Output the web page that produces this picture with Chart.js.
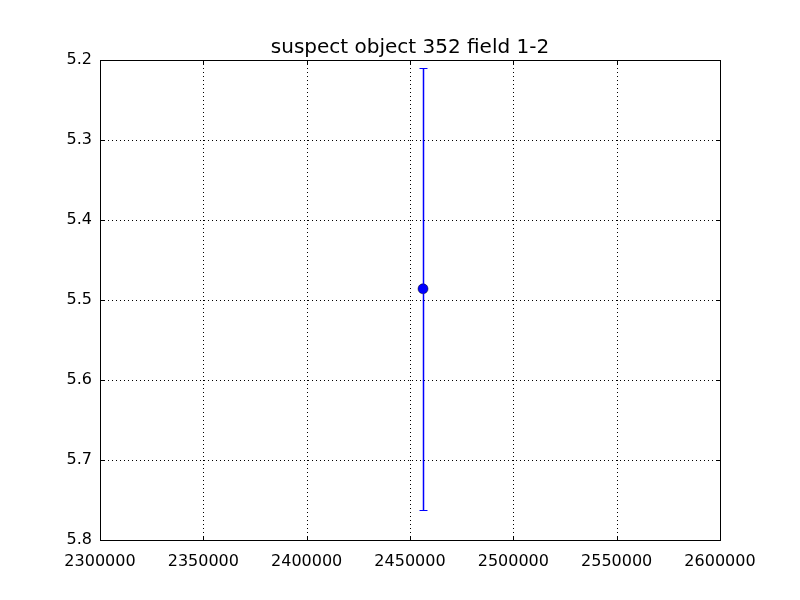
<!DOCTYPE html>
<html>
<head>
<meta charset="utf-8">
<script src="https://cdn.jsdelivr.net/npm/chart.js@4"></script>
<style>
  body { margin: 0; background: #fff; }
  #wrap { width: 800px; height: 600px; }
</style>
</head>
<body>
<div id="wrap"><canvas id="chart" width="800" height="600"></canvas></div>
<script>
// data
var xValues = [2456300];
var yValues = [5.486];
var yErrors = [0.276];
var xTicks = [2300000, 2350000, 2400000, 2450000, 2500000, 2550000, 2600000];
var yTicks = [5.2, 5.3, 5.4, 5.5, 5.6, 5.7, 5.8];
var titleText = 'suspect object 352 field 1-2';

var FONT = '"DejaVu Sans", sans-serif';

// dotted grid, error bars, frame, inward ticks, title
var extras = {
  id: 'extras',
  beforeDatasetsDraw: function (chart) {
    var ctx = chart.ctx, a = chart.chartArea;
    var xs = chart.scales.x, ys = chart.scales.y;
    ctx.save();
    ctx.strokeStyle = '#000';
    ctx.lineWidth = 1;
    ctx.setLineDash([1, 3]);
    ctx.beginPath();
    xTicks.forEach(function (v) {
      var p = Math.round(xs.getPixelForValue(v)) + 0.5;
      ctx.moveTo(p, a.top); ctx.lineTo(p, a.bottom);
    });
    yTicks.forEach(function (v) {
      var p = Math.round(ys.getPixelForValue(v)) + 0.5;
      ctx.moveTo(a.left, p); ctx.lineTo(a.right, p);
    });
    ctx.stroke();
    ctx.restore();
  },
  afterDatasetsDraw: function (chart) {
    var ctx = chart.ctx;
    var xs = chart.scales.x, ys = chart.scales.y;
    ctx.save();
    ctx.strokeStyle = '#0000ff';
    for (var i = 0; i < xValues.length; i++) {
      var px = Math.round(xs.getPixelForValue(xValues[i])) + 0.5;
      var top = Math.round(ys.getPixelForValue(yValues[i] - yErrors[i])) + 0.5;
      var bot = Math.round(ys.getPixelForValue(yValues[i] + yErrors[i])) + 0.5;
      ctx.lineWidth = 1.5;
      ctx.beginPath();
      ctx.moveTo(px, top); ctx.lineTo(px, bot);
      ctx.stroke();
      ctx.lineWidth = 1;
      ctx.beginPath();
      ctx.moveTo(px - 4, top); ctx.lineTo(px + 4, top);
      ctx.moveTo(px - 4, bot); ctx.lineTo(px + 4, bot);
      ctx.stroke();
    }
    ctx.restore();
  },
  afterDraw: function (chart) {
    var ctx = chart.ctx, a = chart.chartArea;
    var xs = chart.scales.x, ys = chart.scales.y;
    ctx.save();
    ctx.strokeStyle = '#000';
    ctx.lineWidth = 1;
    ctx.strokeRect(Math.round(a.left) + 0.5, Math.round(a.top) + 0.5,
      Math.round(a.right - a.left), Math.round(a.bottom - a.top));
    ctx.beginPath();
    xTicks.forEach(function (v) {
      var p = Math.round(xs.getPixelForValue(v)) + 0.5;
      ctx.moveTo(p, a.bottom); ctx.lineTo(p, a.bottom - 4);
      ctx.moveTo(p, a.top); ctx.lineTo(p, a.top + 4);
    });
    yTicks.forEach(function (v) {
      var p = Math.round(ys.getPixelForValue(v)) + 0.5;
      ctx.moveTo(a.left, p); ctx.lineTo(a.left + 4, p);
      ctx.moveTo(a.right, p); ctx.lineTo(a.right - 4, p);
    });
    ctx.stroke();
    ctx.fillStyle = '#000';
    ctx.font = '20px ' + FONT;
    ctx.textAlign = 'center';
    ctx.textBaseline = 'alphabetic';
    ctx.fillText(titleText, (a.left + a.right) / 2, a.top - 7);
    ctx.restore();
  }
};

new Chart(document.getElementById('chart').getContext('2d'), {
  type: 'scatter',
  data: {
    datasets: [{
      data: xValues.map(function (x, i) { return { x: x, y: yValues[i] }; }),
      backgroundColor: '#0000ff',
      borderColor: '#000',
      borderWidth: 0.5,
      pointRadius: 5,
      pointHoverRadius: 5
    }]
  },
  options: {
    responsive: false,
    animation: false,
    events: [],
    layout: { padding: { top: 60, right: 80, left: 0, bottom: 0 } },
    plugins: { legend: { display: false }, tooltip: { enabled: false }, title: { display: false } },
    scales: {
      x: {
        type: 'linear',
        min: 2300000, max: 2600000,
        afterFit: function (s) { s.height = 60; },
        afterBuildTicks: function (s) { s.ticks = xTicks.map(function (v) { return { value: v }; }); },
        ticks: {
          color: '#000',
          font: { family: FONT, size: 16 },
          padding: 4,
          maxRotation: 0,
          callback: function (v) { return String(v); }
        },
        grid: { display: false },
        border: { display: false }
      },
      y: {
        type: 'linear',
        reverse: true,
        min: 5.2, max: 5.8,
        afterFit: function (s) { s.width = 100; },
        afterBuildTicks: function (s) { s.ticks = yTicks.map(function (v) { return { value: v }; }); },
        ticks: {
          color: '#000',
          font: { family: FONT, size: 16 },
          padding: 0,
          callback: function (v) { return Number(v).toFixed(1); }
        },
        grid: { display: false },
        border: { display: false }
      }
    }
  },
  plugins: [extras]
});
</script>
</body>
</html>
